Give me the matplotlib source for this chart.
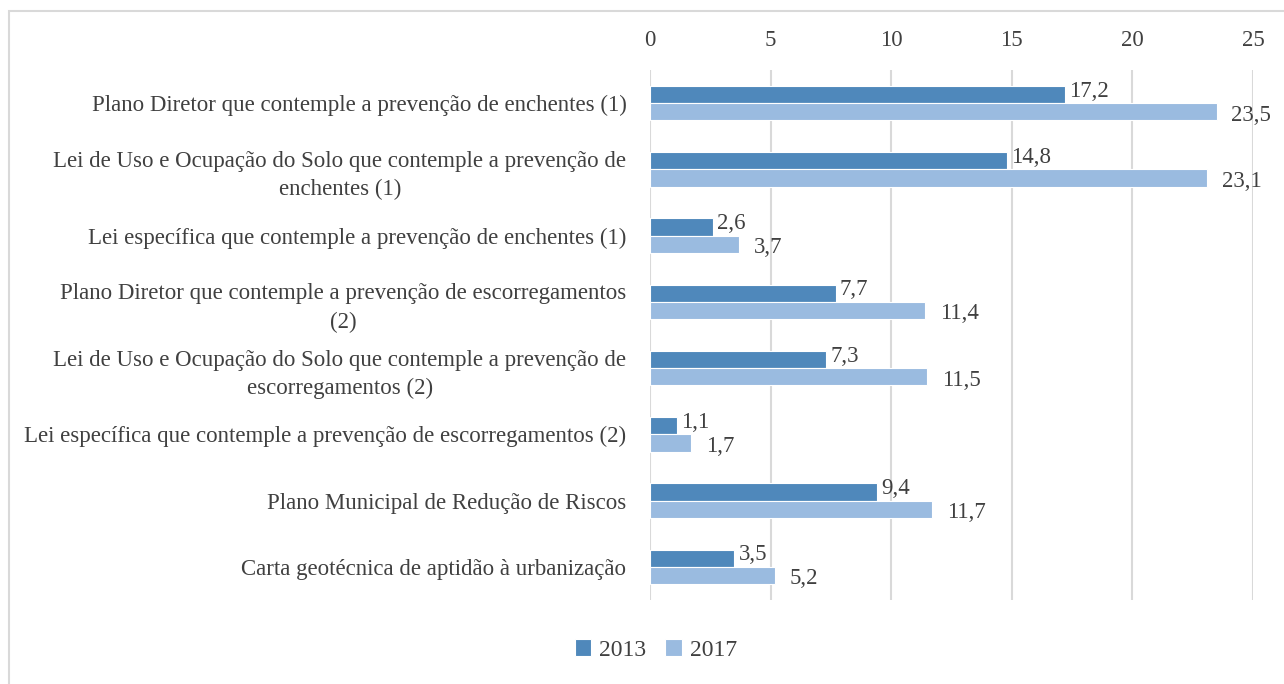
"""Horizontal grouped bar chart, 2013 vs 2017."""
import numpy as np
import matplotlib
matplotlib.use('Agg')
import matplotlib.pyplot as plt
from matplotlib.patches import Rectangle

categories = [
    'Plano Diretor que contemple a prevenção de enchentes (1)',
    'Lei de Uso e Ocupação do Solo que contemple a prevenção de\nenchentes (1)',
    'Lei específica que contemple a prevenção de enchentes (1)',
    'Plano Diretor que contemple a prevenção de escorregamentos\n(2)',
    'Lei de Uso e Ocupação do Solo que contemple a prevenção de\nescorregamentos (2)',
    'Lei específica que contemple a prevenção de escorregamentos (2)',
    'Plano Municipal de Redução de Riscos',
    'Carta geotécnica de aptidão à urbanização',
]
values_2013 = [17.2, 14.8, 2.6, 7.7, 7.3, 1.1, 9.4, 3.5]
values_2017 = [23.5, 23.1, 3.7, 11.4, 11.5, 1.7, 11.7, 5.2]
series_labels = ['2013', '2017']
x_ticks = [0, 5, 10, 15, 20, 25]

color_2013 = '#4F88BB'
color_2017 = '#9ABBE0'
text_color = '#404040'

plt.rcParams['font.family'] = ['Liberation Serif', 'DejaVu Serif']
FS = 16.5


def fmt(v):
    return f'{v:.1f}'.replace('.', ',')


def main():
    fig = plt.figure(figsize=(12.84, 6.84), dpi=100)
    ax = fig.add_axes([650 / 1284, 1 - 600 / 684, 603 / 1284, 530 / 684])

    y = np.arange(len(categories))
    h = 0.26
    ax.barh(y - h / 2, values_2013, height=h, color=color_2013,
            edgecolor='white', linewidth=0.8, label=series_labels[0], zorder=3)
    ax.barh(y + h / 2, values_2017, height=h, color=color_2017,
            edgecolor='white', linewidth=0.8, label=series_labels[1], zorder=3)

    for yi, v in zip(y, values_2013):
        ax.annotate(fmt(v), (v, yi - h / 2), xytext=(3, 2.5),
                    textcoords='offset points', ha='left', va='center',
                    fontsize=FS, color=text_color)
    for yi, v in zip(y, values_2017):
        ax.annotate(fmt(v), (v, yi + h / 2), xytext=(10.5, -2.5),
                    textcoords='offset points', ha='left', va='center',
                    fontsize=FS, color=text_color)

    ax.set_ylim(len(categories) - 0.5, -0.5)
    ax.set_xlim(0, 25)
    ax.set_xticks(x_ticks)
    ax.xaxis.tick_top()
    ax.tick_params(axis='x', length=0, pad=14, labelsize=FS,
                   labelcolor=text_color)
    ax.set_yticks(y)
    ax.set_yticklabels(categories, fontsize=FS, color=text_color,
                       multialignment='center', linespacing=1.45)
    ax.tick_params(axis='y', length=0, pad=17)
    ax.grid(True, axis='x', color='#D9D9D9', linewidth=1.5, zorder=0)
    for s in ax.spines.values():
        s.set_visible(False)

    fig.legend(loc='center', bbox_to_anchor=(656 / 1284, 1 - 650 / 684),
               ncol=2, frameon=False, fontsize=17, handlelength=0.7,
               handleheight=0.7, handletextpad=0.35, columnspacing=0.8,
               labelcolor=text_color)

    fig.patches.append(Rectangle((9 / 1284, -0.1), 1.2, 1.1 - 11 / 684,
                                 transform=fig.transFigure, fill=False,
                                 edgecolor='#D9D9D9', linewidth=1.5))

    fig.savefig('out.png', dpi=100)
    plt.close(fig)


if __name__ == '__main__':
    main()
